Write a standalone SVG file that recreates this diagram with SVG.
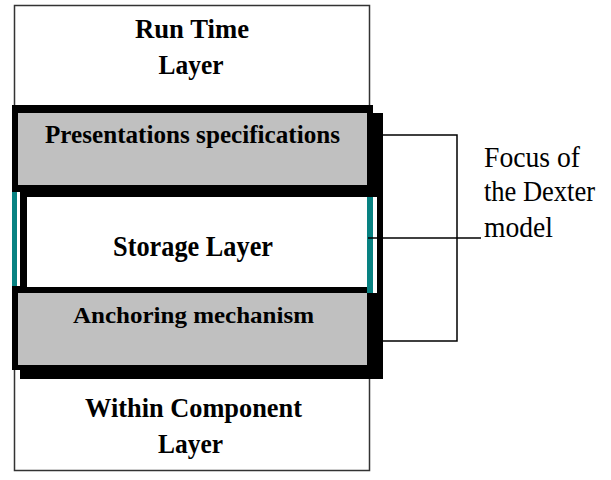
<svg xmlns="http://www.w3.org/2000/svg" width="611" height="480" viewBox="0 0 611 480">
  <style>
    .b { font-family: "Liberation Serif", "Times New Roman", serif; font-weight: bold; fill: #000; text-anchor: middle; }
    .r { font-family: "Liberation Serif", "Times New Roman", serif; fill: #000; }
    .ln { stroke: #000; stroke-width: 1.5; fill: none; }
    .gray { fill: #c0c0c0; }
    .teal { fill: #088282; }
  </style>
  <rect width="611" height="480" fill="#fff"/>

  <g id="outer-layers">
    <rect x="14.5" y="5.5" width="355" height="465" fill="#fff" stroke="#333" stroke-width="1.5"/>
  </g>

  <g id="run-time-layer">
    <text class="b" x="192" y="38" font-size="27.5" textLength="114" lengthAdjust="spacingAndGlyphs">Run Time</text>
    <text class="b" x="191" y="74" font-size="27.5" textLength="65" lengthAdjust="spacingAndGlyphs">Layer</text>
  </g>

  <g id="dexter-frame">
    <rect x="20" y="113" width="363" height="266" fill="#000"/>
    <rect x="12" y="105" width="361" height="265" fill="#000"/>
  </g>

  <g id="presentation-specifications">
    <rect class="gray" x="18" y="113" width="349" height="72"/>
    <text class="b" x="192.5" y="143" font-size="24.5" textLength="295" lengthAdjust="spacingAndGlyphs">Presentations specifications</text>
  </g>

  <g id="storage-layer">
    <rect class="teal" x="12" y="192" width="5" height="94"/>
    <rect x="17" y="192" width="3" height="94" fill="#fff"/>
    <rect x="27" y="197" width="340" height="90" fill="#fff"/>
    <rect class="teal" x="367" y="197" width="6" height="96"/>
    <rect x="373" y="197" width="4" height="96" fill="#fff"/>
    <text class="b" x="193" y="256" font-size="28.5" textLength="160" lengthAdjust="spacingAndGlyphs">Storage Layer</text>
  </g>

  <g id="anchoring-mechanism">
    <rect class="gray" x="18" y="293" width="349" height="72"/>
    <text class="b" x="193.5" y="322.5" font-size="24" textLength="241" lengthAdjust="spacingAndGlyphs">Anchoring mechanism</text>
  </g>

  <g id="within-component-layer">
    <text class="b" x="193.5" y="416.5" font-size="26.5" textLength="217" lengthAdjust="spacingAndGlyphs">Within Component</text>
    <text class="b" x="190.5" y="453" font-size="26.5" textLength="65" lengthAdjust="spacingAndGlyphs">Layer</text>
  </g>

  <g id="connectors">
    <polyline class="ln" points="383,135 457,135 457,341 383,341"/>
    <line class="ln" x1="368" y1="238" x2="481" y2="238"/>
  </g>

  <g id="focus-label">
    <text class="r" x="484" y="167" font-size="30" textLength="96" lengthAdjust="spacingAndGlyphs">Focus of</text>
    <text class="r" x="484" y="201" font-size="30" textLength="111" lengthAdjust="spacingAndGlyphs">the Dexter</text>
    <text class="r" x="484" y="237" font-size="30" textLength="69" lengthAdjust="spacingAndGlyphs">model</text>
  </g>
</svg>
